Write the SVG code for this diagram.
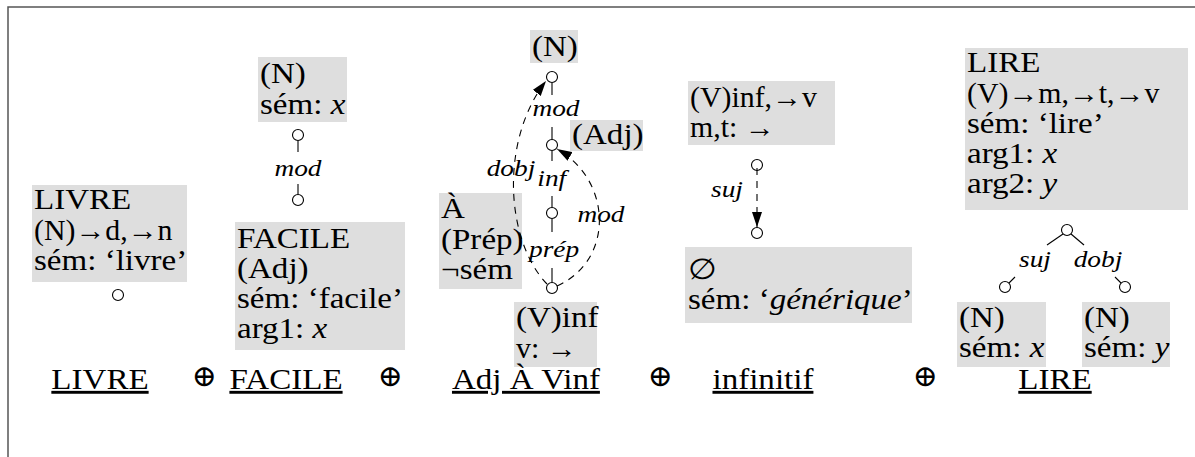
<svg xmlns="http://www.w3.org/2000/svg" width="1195" height="457" viewBox="0 0 1195 457" font-family="'Liberation Serif', 'DejaVu Serif', 'Times New Roman', serif">
<style>
text{font-size:29px;fill:#000;transform-box:fill-box;transform-origin:0 0;transform:scaleX(1.14)}
text.na{transform:scaleX(1.03)}
.lab{font-style:italic;font-size:24px;text-anchor:middle;transform-origin:50% 0}
.i{font-style:italic}
.box{fill:#dedede;stroke:none}
.nd{fill:#fff;stroke:#000;stroke-width:1.1}
.ln{stroke:#000;stroke-width:1.1;fill:none}
.ds{stroke:#000;stroke-width:1.1;fill:none;stroke-dasharray:7,6}
.bot{text-anchor:middle;text-decoration:underline;transform-origin:50% 0}
.op{font-size:30px;text-anchor:middle;transform-origin:50% 0;transform:none}
</style>
<defs>
<marker id="ah" markerUnits="userSpaceOnUse" markerWidth="16" markerHeight="10" refX="15" refY="5" orient="auto">
<path d="M0,0 L15,5 L0,10 Z" fill="#000"/>
</marker>
</defs>
<path d="M8,457 V7 H1195" fill="none" stroke="#555" stroke-width="1.5"/>

<g id="livre">
<rect class="box" x="32" y="185" width="155" height="97"/>
<text x="34" y="209">LIVRE</text>
<text class="na" x="34" y="240">(N)→d,→n</text>
<text x="34" y="270">sém: ‘livre’</text>
<circle class="nd" cx="118" cy="295" r="5.5"/>
</g>

<g id="facile">
<rect class="box" x="258" y="57" width="89" height="65"/>
<text x="260" y="83">(N)</text>
<text x="260" y="114">sém: <tspan class="i">x</tspan></text>
<circle class="nd" cx="298" cy="135" r="5.5"/>
<circle class="nd" cx="298" cy="200" r="5.5"/>
<rect class="box" x="235" y="222" width="170" height="128"/>
<text x="237" y="248">FACILE</text>
<text x="237" y="278">(Adj)</text>
<text x="237" y="308">sém: ‘facile’</text>
<text x="237" y="338">arg1: <tspan class="i">x</tspan></text>
</g>

<g id="adjavinf">
<rect class="box" x="530" y="30" width="48" height="33"/>
<text x="532" y="56">(N)</text>
<rect class="box" x="570" y="120" width="73" height="31"/>
<text x="572" y="144">(Adj)</text>
<rect class="box" x="439" y="193" width="83" height="96"/>
<text x="441" y="218">À</text>
<text x="441" y="249">(Prép)</text>
<text x="441" y="279">¬sém</text>
<rect class="box" x="514" y="302" width="83" height="65"/>
<text x="516" y="327">(V)inf</text>
<text class="na" x="516" y="358">v: →</text>
<circle class="nd" cx="552" cy="77" r="5.5"/>
<circle class="nd" cx="552" cy="145" r="5.5"/>
<circle class="nd" cx="552" cy="213" r="5.5"/>
<circle class="nd" cx="552" cy="288" r="5.5"/>
</g>

<g id="infinitif">
<rect class="box" x="688" y="81" width="147" height="64"/>
<text class="na" x="690" y="107">(V)inf,→v</text>
<text class="na" x="690" y="137">m,t: →</text>
<circle class="nd" cx="757" cy="165" r="5.5"/>
<circle class="nd" cx="757" cy="233" r="5.5"/>
<rect class="box" x="685" y="247" width="227" height="76"/>
<text x="688" y="279">∅</text>
<text x="688" y="309">sém: ‘<tspan class="i">générique</tspan>’</text>
</g>

<g id="lire">
<rect class="box" x="965" y="48" width="223" height="162"/>
<text x="967" y="72">LIRE</text>
<text class="na" x="967" y="103">(V)→m,→t,→v</text>
<text x="967" y="133">sém: ‘lire’</text>
<text x="967" y="163">arg1: <tspan class="i">x</tspan></text>
<text x="967" y="193">arg2: <tspan class="i">y</tspan></text>
<circle class="nd" cx="1067" cy="230" r="5.5"/>
<circle class="nd" cx="1005" cy="287" r="5.5"/>
<circle class="nd" cx="1125" cy="287" r="5.5"/>
<rect class="box" x="957" y="302" width="89" height="65"/>
<text x="959" y="327">(N)</text>
<text x="959" y="357">sém: <tspan class="i">x</tspan></text>
<rect class="box" x="1082" y="302" width="88" height="65"/>
<text x="1084" y="327">(N)</text>
<text x="1084" y="357">sém: <tspan class="i">y</tspan></text>
</g>

<g id="connectors">
<line class="ln" x1="298" y1="141" x2="298" y2="152"/>
<line class="ln" x1="298" y1="184" x2="298" y2="194"/>
<text class="lab" x="298" y="176">mod</text>

<line class="ln" x1="552" y1="83" x2="552" y2="95"/>
<text class="lab" x="556" y="116">mod</text>
<line class="ln" x1="552" y1="127" x2="552" y2="139"/>
<line class="ln" x1="552" y1="151" x2="552" y2="161"/>
<text class="lab" x="552" y="186">inf</text>
<line class="ln" x1="552" y1="196" x2="552" y2="207"/>
<line class="ln" x1="552" y1="219" x2="552" y2="232"/>
<text class="lab" x="554" y="257">prép</text>
<line class="ln" x1="552" y1="268" x2="552" y2="282"/>
<path class="ds" d="M547,284 C505,240 500,140 546,81" marker-end="url(#ah)"/>
<text class="lab" x="511" y="176">dobj</text>
<path class="ds" d="M557,286 C615,260 612,180 557,149" marker-end="url(#ah)"/>
<text class="lab" x="601" y="222">mod</text>

<path class="ds" d="M757,168 L757,227" marker-end="url(#ah)"/>
<text class="lab" x="727" y="197">suj</text>

<line class="ln" x1="1063" y1="234" x2="1047" y2="245"/>
<line class="ln" x1="1071" y1="234" x2="1084" y2="245"/>
<text class="lab" x="1035" y="267">suj</text>
<text class="lab" x="1098" y="267">dobj</text>
<line class="ln" x1="1015" y1="277" x2="1009" y2="283"/>
<line class="ln" x1="1115" y1="277" x2="1121" y2="283"/>
</g>

<g id="bottom">
<text class="bot" x="100" y="389">LIVRE</text>
<text class="op" x="204" y="386">⊕</text>
<text class="bot" x="286" y="389">FACILE</text>
<text class="op" x="390" y="386">⊕</text>
<text class="bot" x="526" y="389">Adj À Vinf</text>
<text class="op" x="660" y="386">⊕</text>
<text class="bot" x="763" y="389">infinitif</text>
<text class="op" x="925" y="386">⊕</text>
<text class="bot" x="1055" y="389">LIRE</text>
</g>
</svg>
